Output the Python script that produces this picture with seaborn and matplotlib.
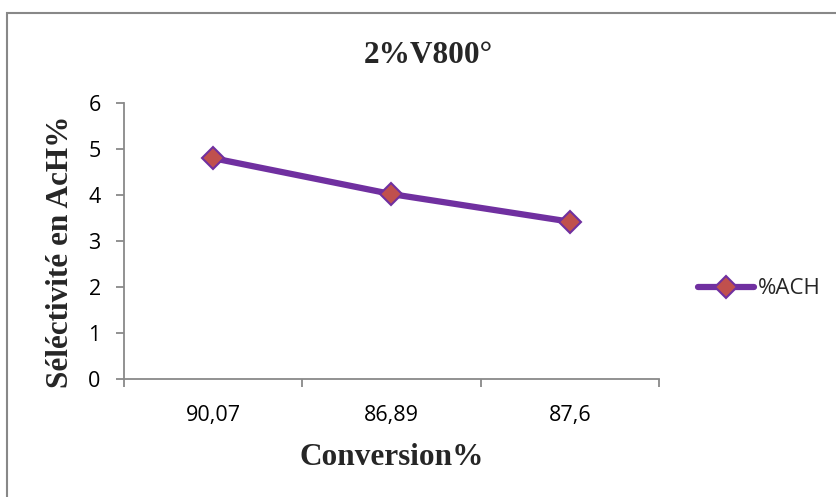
import matplotlib
matplotlib.use("Agg")
import matplotlib.pyplot as plt
import seaborn as sns
import pandas as pd
from matplotlib.patches import Rectangle

# ---- data ----
categories = ["90,07", "86,89", "87,6"]
values = [4.80, 4.02, 3.42]
series_name = "%ACH"
yticks = [0, 1, 2, 3, 4, 5, 6]
title = "2%V800°"
xlabel = "Conversion%"
ylabel = "Séléctivité en AcH%"

sns.set_style("white")
plt.rcParams["font.family"] = ["Open Sans", "DejaVu Sans"]

W, H = 837, 497
fig = plt.figure(figsize=(W / 100, H / 100), dpi=100)
L, R, T, B = 124, 659, 103, 379
ax = fig.add_axes([L / W, 1 - B / H, (R - L) / W, (B - T) / H])

df = pd.DataFrame({"Conversion": categories, "Sel": values})
sns.lineplot(data=df, x="Conversion", y="Sel", sort=False, color="#7030A0",
             linewidth=4.5, marker="D", markersize=11,
             markerfacecolor="#C0504D", markeredgecolor="#7030A0",
             markeredgewidth=1.5, legend=False, ax=ax)

gray = "#898989"
ax.set_xlim(-0.5, len(categories) - 0.5)
ax.set_ylim(0, 6)
ax.set_yticks(yticks)
ax.set_yticklabels([str(v) for v in yticks])
bounds = [i - 0.5 for i in range(len(categories) + 1)]
ax.set_xticks(bounds)
ax.set_xticklabels([""] * len(bounds))
ax.set_xticks(list(range(len(categories))), labels=categories, minor=True)

for s in ["top", "right"]:
    ax.spines[s].set_visible(False)
for s in ["left", "bottom"]:
    ax.spines[s].set_color(gray)
    ax.spines[s].set_linewidth(1.3)

ax.tick_params(axis="x", which="major", bottom=True, length=5.8, width=1.3,
               color=gray, direction="out")
ax.tick_params(axis="x", which="minor", bottom=True, length=0, pad=19,
               labelsize=15.5, labelcolor="black")
ax.tick_params(axis="y", which="major", left=True, length=5.8, width=1.3,
               color=gray, direction="out", pad=11, labelsize=15.5,
               labelcolor="black")

serif = ["Liberation Serif", "DejaVu Serif"]
ax.set_xlabel(xlabel, family=serif, fontweight="bold", fontsize=22.5)
ax.xaxis.label.set_verticalalignment("baseline")
ax.xaxis.set_label_coords(0.5, (B - 465) / (B - T))
ax.set_ylabel(ylabel, family=serif, fontweight="bold", fontsize=22.5)
ax.yaxis.set_label_coords((75.5 - L) / (R - L), (B - 251.5) / (B - T))

fig.text(428 / W, 1 - 63 / H, title, ha="center", va="baseline",
         family=serif, fontweight="bold", fontsize=22.5)

ax.legend(handles=[ax.lines[0]], labels=[series_name], loc="center left",
          bbox_to_anchor=(698 / W, 1 - 289 / H), bbox_transform=fig.transFigure,
          frameon=False, borderpad=0, borderaxespad=0, handlelength=2.5,
          handletextpad=0.2, fontsize=16)

fig.patches.append(Rectangle((7.3 / W, -0.1), 1.2, 1 - 12.7 / H + 0.1,
                             transform=fig.transFigure, fill=False,
                             edgecolor="#888888", linewidth=1.5))

fig.savefig("out.png", dpi=100)
